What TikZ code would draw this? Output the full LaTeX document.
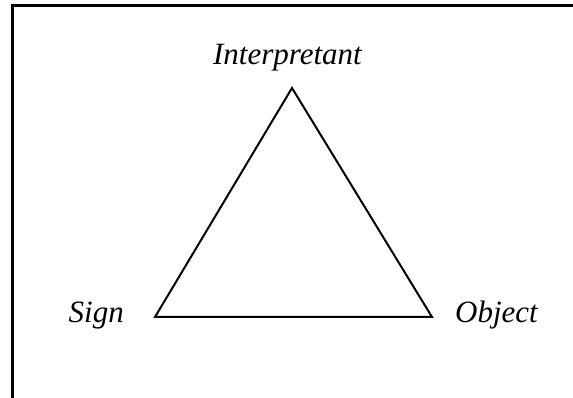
\documentclass[tikz,border=0pt]{standalone}
\usepackage{fontspec}
\setmainfont{Liberation Serif}
\usepackage{xcolor}

\begin{document}
\begin{tikzpicture}[x=1pt,y=1pt]
\useasboundingbox (0,0) rectangle (573,398);
\tikzset{lbl/.style={inner sep=0pt,font=\fontsize{31}{37}\selectfont\itshape}}
\draw[line width=3pt] (12,-2)--(12,392)--(575,392);
\coordinate (top) at (292,310);
\coordinate (left) at (155,81);
\coordinate (right) at (432,81);
\draw[line width=2pt,line join=miter] (left)--(top)--(right)--cycle;
\node[lbl,anchor=base] (interp) at (287.5,333) {Interpretant};
\node[lbl,anchor=base east] (sign) at (124,75) {Sign};
\node[lbl,anchor=base west] (obj) at (455,75) {Object};
\end{tikzpicture}
\end{document}
